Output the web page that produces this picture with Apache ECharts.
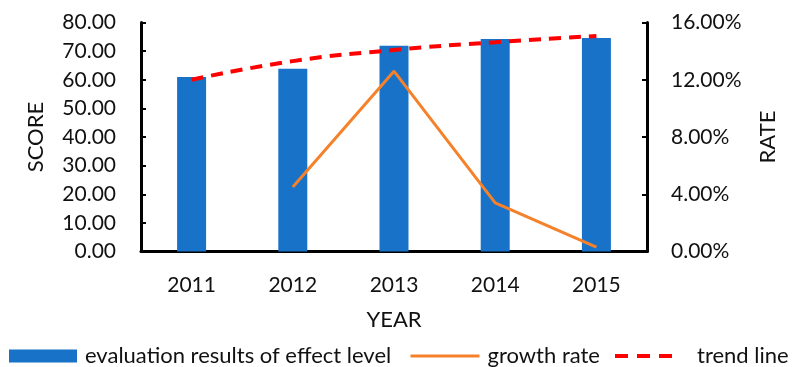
<!DOCTYPE html>
<html>
<head>
<meta charset="utf-8">
<script src="https://cdn.jsdelivr.net/npm/echarts@6/dist/echarts.min.js"></script>
<style>
  html, body { margin: 0; padding: 0; background: #fff; }
  #chart { width: 792px; height: 367px; }
</style>
</head>
<body>
<div id="chart"></div>
<script>
// Years on the category axis
const years = ['2011', '2012', '2013', '2014', '2015'];
// Evaluation score per year (left axis)
const scores = [61.0, 63.8, 71.9, 74.2, 74.6];
// Year-on-year growth rate in percent (right axis); none for the first year
const growth = [null, 4.5, 12.6, 3.4, 0.3];
// Fitted trend of the score (left axis)
const trend = [60.0, 66.5, 70.4, 73.1, 75.3];

const FONT = 'Lato';
const TXT = '#111';
const LABEL_SIZE = 21;
const LEGEND_SIZE = 22;

const chart = echarts.init(document.getElementById('chart'), null, { renderer: 'canvas' });

const axisLine = { show: true, lineStyle: { color: '#000', width: 3 } };
const axisTick = { show: true, inside: true, length: 5, lineStyle: { color: '#000', width: 2 } };

// one legend block per entry so each sits at its own spot on the bottom row
function legendBlock(name, left, width, gap, extra) {
  return Object.assign({
    data: [name],
    left: left, top: 345,
    padding: 0,
    itemWidth: width, itemHeight: 13, itemGap: 0,
    itemStyle: { opacity: 0 },
    textStyle: { fontFamily: FONT, fontSize: LEGEND_SIZE, color: TXT, padding: [0, 0, 0, gap] }
  }, extra || {});
}

chart.setOption({
  animation: false,
  textStyle: { fontFamily: FONT, color: TXT },
  grid: { left: 141, right: 145, top: 22.5, bottom: 115.5 },
  legend: [
    legendBlock('evaluation results of effect level', 9, 68, 3,
      { data: [{ name: 'evaluation results of effect level', icon: 'rect' }], itemStyle: {} }),
    legendBlock('growth rate', 409, 69, 3, { lineStyle: { width: 3 } }),
    legendBlock('trend line', 613, 57, 20, { lineStyle: { type: [13, 9], width: 4 } })
  ],
  xAxis: {
    type: 'category',
    data: years,
    name: 'YEAR',
    nameLocation: 'middle',
    nameGap: 57,
    nameTextStyle: { fontFamily: FONT, fontSize: LEGEND_SIZE, color: TXT },
    axisLine: axisLine,
    axisTick: { show: false },
    axisLabel: { fontFamily: FONT, fontSize: LABEL_SIZE, color: TXT, margin: 23 }
  },
  yAxis: [
    {
      type: 'value',
      min: 0, max: 80, interval: 10,
      name: 'SCORE',
      nameLocation: 'middle',
      nameRotate: 90,
      nameGap: 94,
      nameTextStyle: { fontFamily: FONT, fontSize: LEGEND_SIZE, color: TXT },
      axisLine: axisLine,
      axisTick: axisTick,
      splitLine: { show: false },
      axisLabel: {
        fontFamily: FONT, fontSize: LABEL_SIZE, color: TXT, margin: 25,
        formatter: v => v.toFixed(2)
      }
    },
    {
      type: 'value',
      min: 0, max: 16, interval: 4,
      name: 'RATE',
      nameLocation: 'middle',
      nameRotate: 90,
      nameGap: 110,
      nameTextStyle: { fontFamily: FONT, fontSize: LEGEND_SIZE, color: TXT },
      axisLine: axisLine,
      axisTick: axisTick,
      splitLine: { show: false },
      axisLabel: {
        fontFamily: FONT, fontSize: LABEL_SIZE, color: TXT, margin: 24,
        formatter: v => v.toFixed(2) + '%'
      }
    }
  ],
  series: [
    {
      name: 'evaluation results of effect level',
      type: 'bar',
      data: scores,
      barWidth: 29,
      itemStyle: { color: '#1872C8' },
      z: 1
    },
    {
      name: 'growth rate',
      type: 'line',
      yAxisIndex: 1,
      data: growth,
      symbol: 'none',
      connectNulls: false,
      lineStyle: { color: '#F5822A', width: 3 },
      itemStyle: { color: '#F5822A' },
      z: 3
    },
    {
      name: 'trend line',
      type: 'line',
      data: trend,
      smooth: true,
      symbol: 'none',
      lineStyle: { color: '#FF0000', width: 4, type: [12, 8] },
      itemStyle: { color: '#FF0000' },
      z: 4
    }
  ]
});
</script>
</body>
</html>
